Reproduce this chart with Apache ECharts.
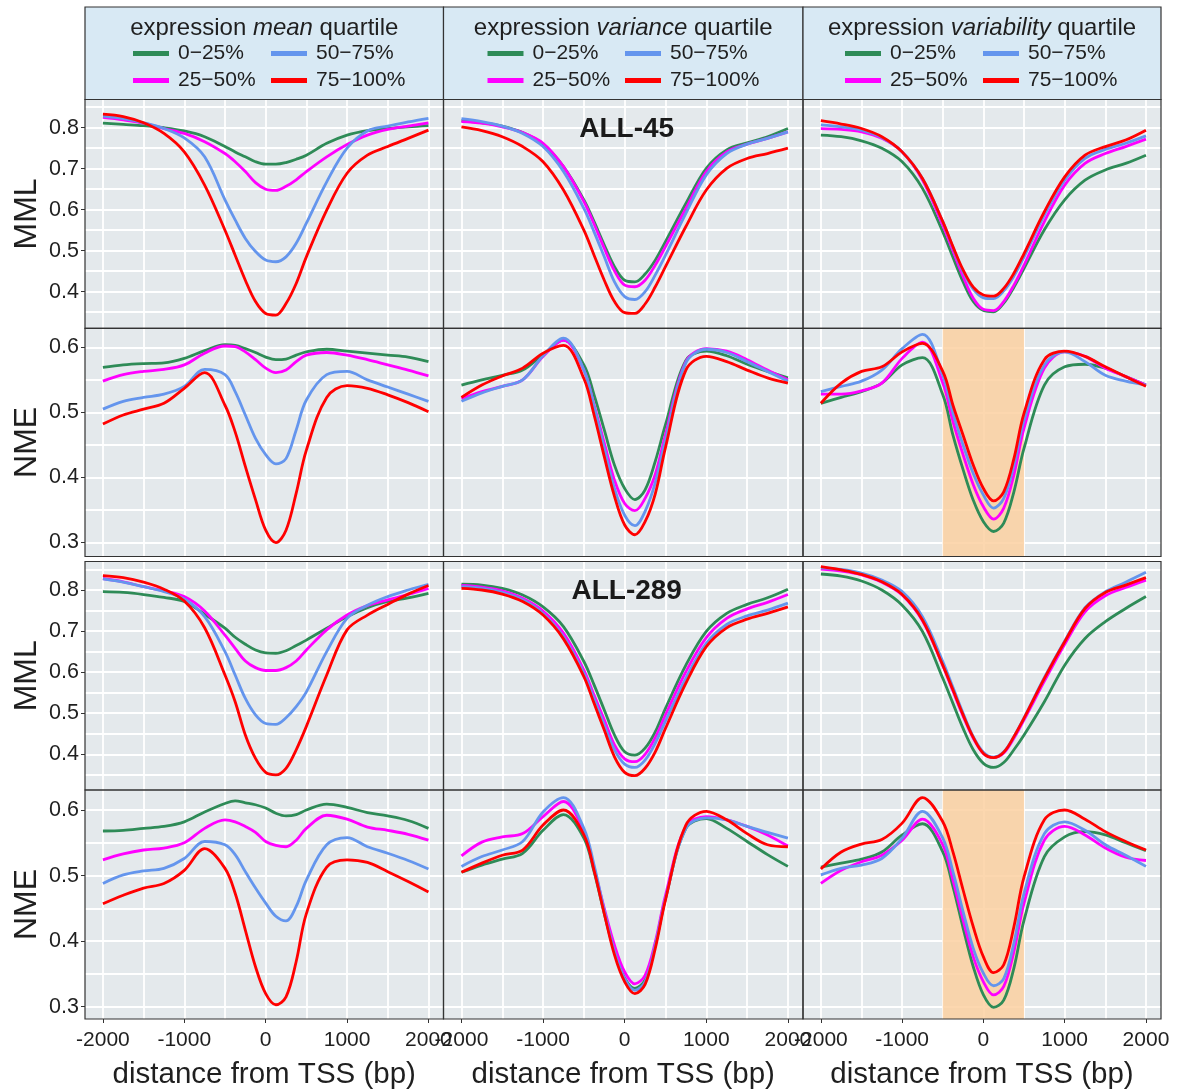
<!DOCTYPE html>
<html><head><meta charset="utf-8">
<script src="https://cdn.jsdelivr.net/npm/echarts@6/dist/echarts.min.js"></script>
<style>html,body{margin:0;padding:0;background:#fff}#c{width:1178px;height:1092px}</style>
</head><body><div id="c"></div>
<script>
// ---------------- DATA ----------------
const distance = [-2000,-1750,-1500,-1250,-1000,-750,-500,-375,-250,-125,0,125,250,375,500,750,1000,1250,1500,1750,2000];
const quartiles = ['0−25%','25−50%','50−75%','75−100%'];
const headerMeasures = ['mean','variance','variability'];
const sampleLabels = ['ALL-45','ALL-289'];
const rowMetrics = ['MML','NME','MML','NME'];
const xTickLabels = [-2000,-1000,0,1000,2000];
const xGridValues = [-2000,-1500,-1000,-500,0,500,1000,1500,2000];
const mmlTickLabels = [0.4,0.5,0.6,0.7,0.8];
const mmlGridValues = [0.35,0.4,0.45,0.5,0.55,0.6,0.65,0.7,0.75,0.8,0.85];
const nmeTickLabels = [0.3,0.4,0.5,0.6];
const nmeGridValues = [0.3,0.35,0.4,0.45,0.5,0.55,0.6];
const shadedRegion = [-500, 500];

// each panel: [0−25%, 25−50%, 50−75%, 75−100%]
const mml45Mean = [
 [0.811,0.808,0.805,0.800,0.792,0.778,0.754,0.741,0.729,0.717,0.711,0.711,0.715,0.723,0.733,0.762,0.782,0.793,0.798,0.802,0.805],
 [0.825,0.819,0.811,0.798,0.786,0.766,0.737,0.717,0.693,0.666,0.650,0.647,0.657,0.673,0.693,0.729,0.759,0.782,0.796,0.804,0.812],
 [0.828,0.822,0.812,0.798,0.775,0.729,0.624,0.575,0.530,0.498,0.477,0.473,0.485,0.518,0.567,0.668,0.750,0.792,0.804,0.814,0.823],
 [0.833,0.827,0.812,0.786,0.741,0.660,0.550,0.489,0.428,0.376,0.347,0.343,0.371,0.420,0.485,0.599,0.689,0.733,0.754,0.774,0.794]];
const mml45Variance = [
 [0.817,0.812,0.804,0.788,0.760,0.705,0.624,0.571,0.514,0.461,0.428,0.424,0.443,0.477,0.522,0.615,0.701,0.746,0.763,0.778,0.798],
 [0.815,0.811,0.802,0.788,0.762,0.705,0.620,0.565,0.506,0.451,0.416,0.412,0.428,0.465,0.510,0.603,0.693,0.741,0.760,0.774,0.790],
 [0.822,0.815,0.804,0.786,0.754,0.693,0.603,0.546,0.485,0.424,0.388,0.381,0.400,0.441,0.489,0.591,0.685,0.737,0.760,0.774,0.790],
 [0.802,0.793,0.778,0.754,0.717,0.648,0.550,0.489,0.428,0.376,0.349,0.347,0.370,0.412,0.461,0.559,0.648,0.701,0.725,0.737,0.750]];
const mml45Variability = [
 [0.782,0.778,0.768,0.750,0.717,0.652,0.546,0.484,0.424,0.376,0.354,0.351,0.372,0.411,0.457,0.551,0.624,0.672,0.697,0.713,0.733],
 [0.798,0.796,0.790,0.774,0.741,0.672,0.562,0.500,0.437,0.384,0.357,0.354,0.376,0.416,0.465,0.571,0.660,0.713,0.737,0.754,0.772],
 [0.807,0.802,0.794,0.776,0.741,0.676,0.571,0.508,0.449,0.406,0.385,0.383,0.402,0.438,0.485,0.587,0.672,0.725,0.747,0.762,0.780],
 [0.817,0.809,0.798,0.778,0.741,0.676,0.571,0.510,0.453,0.411,0.392,0.389,0.408,0.445,0.493,0.595,0.680,0.733,0.754,0.770,0.794]];
const nme45Mean = [
 [0.569,0.573,0.575,0.576,0.583,0.595,0.604,0.603,0.598,0.592,0.585,0.581,0.582,0.588,0.593,0.597,0.594,0.591,0.588,0.585,0.578],
 [0.548,0.558,0.563,0.566,0.573,0.591,0.602,0.601,0.593,0.581,0.568,0.561,0.565,0.578,0.588,0.592,0.588,0.581,0.573,0.565,0.556],
 [0.505,0.517,0.523,0.528,0.540,0.566,0.558,0.532,0.496,0.460,0.435,0.421,0.429,0.473,0.519,0.558,0.563,0.550,0.539,0.528,0.517],
 [0.482,0.496,0.505,0.514,0.537,0.561,0.511,0.470,0.417,0.366,0.319,0.300,0.319,0.376,0.442,0.523,0.541,0.537,0.527,0.515,0.501]];
const nme45Variance = [
 [0.542,0.550,0.557,0.565,0.589,0.611,0.573,0.527,0.473,0.419,0.383,0.366,0.381,0.425,0.481,0.580,0.594,0.587,0.574,0.563,0.553],
 [0.521,0.532,0.540,0.550,0.586,0.611,0.565,0.511,0.453,0.396,0.360,0.349,0.368,0.405,0.466,0.578,0.598,0.594,0.581,0.565,0.550],
 [0.517,0.530,0.540,0.550,0.587,0.614,0.565,0.509,0.445,0.383,0.342,0.326,0.348,0.392,0.458,0.576,0.597,0.592,0.578,0.563,0.548],
 [0.523,0.542,0.556,0.568,0.591,0.603,0.552,0.496,0.432,0.371,0.327,0.312,0.332,0.375,0.446,0.565,0.586,0.578,0.565,0.553,0.545]];
const nme45Variability = [
 [0.514,0.523,0.532,0.545,0.573,0.584,0.527,0.465,0.412,0.365,0.332,0.317,0.330,0.378,0.445,0.542,0.570,0.574,0.568,0.555,0.542],
 [0.528,0.528,0.533,0.545,0.583,0.608,0.545,0.486,0.435,0.389,0.355,0.336,0.353,0.404,0.476,0.568,0.593,0.586,0.568,0.555,0.542],
 [0.532,0.540,0.548,0.565,0.598,0.620,0.557,0.499,0.450,0.406,0.373,0.353,0.368,0.419,0.488,0.573,0.593,0.578,0.557,0.548,0.542],
 [0.514,0.545,0.563,0.570,0.593,0.606,0.563,0.511,0.465,0.419,0.383,0.364,0.378,0.429,0.499,0.581,0.594,0.586,0.570,0.555,0.540]];
const mml289Mean = [
 [0.796,0.794,0.789,0.782,0.772,0.741,0.707,0.685,0.668,0.654,0.647,0.646,0.652,0.665,0.678,0.707,0.735,0.757,0.772,0.781,0.792],
 [0.828,0.820,0.808,0.798,0.784,0.749,0.690,0.658,0.627,0.611,0.604,0.604,0.611,0.627,0.654,0.703,0.739,0.762,0.776,0.789,0.804],
 [0.827,0.819,0.808,0.796,0.778,0.735,0.650,0.593,0.536,0.496,0.475,0.473,0.489,0.516,0.552,0.650,0.731,0.763,0.784,0.800,0.814],
 [0.835,0.830,0.819,0.802,0.773,0.708,0.593,0.528,0.447,0.390,0.356,0.350,0.366,0.411,0.468,0.593,0.703,0.739,0.765,0.790,0.811]];
const mml289Variance = [
 [0.814,0.812,0.804,0.788,0.759,0.711,0.626,0.569,0.508,0.447,0.406,0.398,0.415,0.455,0.512,0.617,0.699,0.743,0.765,0.781,0.802],
 [0.811,0.807,0.798,0.780,0.749,0.695,0.605,0.544,0.484,0.423,0.389,0.382,0.400,0.441,0.496,0.601,0.684,0.731,0.754,0.770,0.789],
 [0.808,0.804,0.794,0.776,0.743,0.686,0.597,0.535,0.471,0.411,0.376,0.368,0.386,0.427,0.481,0.585,0.670,0.716,0.737,0.751,0.768],
 [0.804,0.800,0.790,0.772,0.739,0.681,0.589,0.524,0.459,0.394,0.356,0.348,0.366,0.406,0.463,0.573,0.662,0.708,0.729,0.743,0.759]];
const mml289Variability = [
 [0.839,0.834,0.822,0.800,0.763,0.699,0.585,0.524,0.463,0.411,0.378,0.368,0.380,0.411,0.447,0.528,0.617,0.682,0.723,0.755,0.784],
 [0.851,0.846,0.837,0.819,0.788,0.725,0.616,0.554,0.493,0.439,0.402,0.392,0.403,0.439,0.484,0.578,0.668,0.747,0.786,0.806,0.824],
 [0.854,0.850,0.841,0.824,0.796,0.735,0.626,0.563,0.500,0.443,0.405,0.393,0.406,0.443,0.489,0.587,0.676,0.757,0.796,0.819,0.843],
 [0.857,0.849,0.838,0.820,0.789,0.727,0.617,0.557,0.496,0.441,0.402,0.392,0.405,0.443,0.488,0.585,0.674,0.755,0.794,0.812,0.830]];
const nme289Mean = [
 [0.568,0.569,0.572,0.575,0.582,0.597,0.610,0.614,0.611,0.608,0.603,0.595,0.591,0.593,0.600,0.609,0.604,0.596,0.591,0.584,0.572],
 [0.524,0.533,0.539,0.542,0.550,0.572,0.585,0.582,0.575,0.566,0.552,0.546,0.544,0.554,0.572,0.592,0.586,0.574,0.569,0.563,0.554],
 [0.488,0.501,0.507,0.511,0.526,0.552,0.547,0.532,0.506,0.481,0.458,0.438,0.431,0.453,0.493,0.547,0.558,0.544,0.534,0.523,0.510],
 [0.457,0.470,0.481,0.488,0.508,0.541,0.511,0.473,0.417,0.361,0.320,0.303,0.315,0.369,0.442,0.513,0.524,0.520,0.506,0.491,0.475]];
const nme289Variance = [
 [0.505,0.516,0.525,0.534,0.569,0.593,0.557,0.506,0.442,0.384,0.344,0.328,0.341,0.394,0.465,0.572,0.587,0.572,0.552,0.532,0.514],
 [0.530,0.551,0.559,0.564,0.590,0.613,0.567,0.511,0.450,0.394,0.353,0.335,0.348,0.399,0.470,0.575,0.590,0.585,0.575,0.562,0.545],
 [0.514,0.529,0.539,0.552,0.597,0.619,0.572,0.516,0.447,0.384,0.343,0.325,0.338,0.394,0.465,0.572,0.588,0.585,0.575,0.566,0.557],
 [0.505,0.519,0.531,0.539,0.577,0.600,0.562,0.508,0.442,0.379,0.338,0.320,0.334,0.389,0.463,0.577,0.598,0.585,0.564,0.547,0.544]];
const nme289Variability = [
 [0.513,0.519,0.525,0.536,0.562,0.579,0.536,0.483,0.420,0.361,0.318,0.299,0.310,0.359,0.432,0.529,0.559,0.567,0.562,0.550,0.538],
 [0.488,0.508,0.521,0.531,0.554,0.586,0.547,0.493,0.432,0.376,0.338,0.318,0.331,0.384,0.458,0.554,0.575,0.562,0.542,0.528,0.523],
 [0.501,0.511,0.516,0.526,0.557,0.598,0.557,0.506,0.445,0.389,0.351,0.332,0.343,0.397,0.473,0.564,0.582,0.569,0.547,0.531,0.514],
 [0.510,0.536,0.548,0.555,0.580,0.619,0.582,0.536,0.478,0.422,0.376,0.352,0.364,0.422,0.498,0.585,0.600,0.586,0.567,0.552,0.539]];

// ---------------- LAYOUT / STYLE ----------------
const panelData = [
  [mml45Mean, mml45Variance, mml45Variability],
  [nme45Mean, nme45Variance, nme45Variability],
  [mml289Mean, mml289Variance, mml289Variability],
  [nme289Mean, nme289Variance, nme289Variability]
];
const COLORS = ['#2e8b57', '#ff00ff', '#6495ed', '#ff0000'];
const FONT = '"Liberation Sans", Arial, Helvetica, sans-serif';
const TXT = '#1f1f1f';
const colEdges = [85, 443.5, 803, 1161];
const rowEdges = [[99.5, 328.3], [328.3, 556.5], [561.5, 790], [790, 1019]];
const rowRange = [[0.3107, 0.8688], [0.2786, 0.6292], [0.3131, 0.8694], [0.2813, 0.6305]];
const X_MIN = -2220, X_MAX = 2185;
const legendLeft = [[133, 271], [487.5, 625], [845, 983]];

const grids = [], xAxes = [], yAxes = [], series = [], graphics = [], legends = [];
const hiddenTick = {show: true, length: 0, lineStyle: {color: 'rgba(0,0,0,0)', width: 0}};
const gridLineStyle = {color: '#ffffff', width: 1.8};

for (let r = 0; r < 4; r++) {
  for (let c = 0; c < 3; c++) {
    const idx = r * 3 + c;
    const left = colEdges[c], width = colEdges[c + 1] - colEdges[c];
    const top = rowEdges[r][0], height = rowEdges[r][1] - rowEdges[r][0];
    const bottomRow = r === 3, firstCol = c === 0;
    const isMML = rowMetrics[r] === 'MML';
    const yTicks = isMML ? mmlTickLabels : nmeTickLabels;
    const yGrid = isMML ? mmlGridValues : nmeGridValues;
    grids.push({left, top, width, height, show: true, backgroundColor: '#e4e9ec',
      borderWidth: 0, containLabel: false, outerBoundsMode: 'none'});
    // gridline axes (index 2*idx)
    xAxes.push({
      type: 'value', gridIndex: idx, position: 'bottom', min: X_MIN, max: X_MAX,
      axisLine: {show: false, onZero: false},
      splitLine: {show: true, showMinLine: true, showMaxLine: true, lineStyle: gridLineStyle},
      axisTick: Object.assign({customValues: xGridValues}, hiddenTick),
      axisLabel: {show: false, customValues: xGridValues}
    });
    yAxes.push({
      type: 'value', gridIndex: idx, position: 'left', min: rowRange[r][0], max: rowRange[r][1],
      axisLine: {show: false, onZero: false},
      splitLine: {show: true, showMinLine: true, showMaxLine: true, lineStyle: gridLineStyle},
      axisTick: Object.assign({customValues: yGrid}, hiddenTick),
      axisLabel: {show: false, customValues: yGrid}
    });
    // label axes (index 2*idx+1)
    xAxes.push({
      type: 'value', gridIndex: idx, position: 'bottom', min: X_MIN, max: X_MAX,
      axisLine: {show: false, onZero: false},
      splitLine: {show: false},
      axisTick: {show: bottomRow, customValues: xTickLabels, length: 4, lineStyle: {color: '#333', width: 1}},
      axisLabel: {show: bottomRow, customValues: xTickLabels, formatter: v => String(v),
        fontFamily: FONT, fontSize: 21, color: TXT, margin: 11},
      name: bottomRow ? 'distance from TSS (bp)' : '', nameLocation: 'middle', nameGap: 41,
      nameTextStyle: {fontFamily: FONT, fontSize: 29.5, color: TXT}
    });
    yAxes.push({
      type: 'value', gridIndex: idx, position: 'left', min: rowRange[r][0], max: rowRange[r][1],
      axisLine: {show: false, onZero: false},
      splitLine: {show: false},
      axisTick: {show: firstCol, customValues: yTicks, length: 4, lineStyle: {color: '#333', width: 1}},
      axisLabel: {show: firstCol, customValues: yTicks, formatter: v => Number(v).toFixed(1),
        fontFamily: FONT, fontSize: 21.5, color: TXT, margin: 6},
      name: firstCol ? rowMetrics[r] : '', nameLocation: 'middle', nameGap: 42, nameRotate: 90,
      nameTextStyle: {fontFamily: FONT, fontSize: 32, color: TXT}
    });
    const ax = 2 * idx;
    if (c === 2 && (r === 1 || r === 3)) {
      series.push({type: 'line', xAxisIndex: ax, yAxisIndex: ax, data: [], z: 1, silent: true,
        markArea: {silent: true, itemStyle: {color: 'rgba(252,208,161,0.85)'},
          data: [[{xAxis: shadedRegion[0]}, {xAxis: shadedRegion[1]}]]}});
    }
    const pd = panelData[r][c];
    for (let q = 0; q < 4; q++) {
      series.push({
        type: 'line', name: quartiles[q], xAxisIndex: ax, yAxisIndex: ax,
        data: distance.map((d, k) => [d, pd[q][k]]),
        smooth: 0.35, showSymbol: false, symbol: 'none', z: 3, silent: true,
        lineStyle: {width: 2.8, color: COLORS[q]}, itemStyle: {color: COLORS[q]}
      });
    }
    graphics.push({type: 'rect', silent: true, z: 100,
      shape: {x: left, y: top, width, height},
      style: {fill: 'none', stroke: '#333', lineWidth: 1.2}});
  }
}

for (let c = 0; c < 3; c++) {
  const left = colEdges[c], width = colEdges[c + 1] - colEdges[c];
  graphics.push({type: 'rect', silent: true, z: 90,
    shape: {x: left, y: 7, width, height: 92.5},
    style: {fill: '#d8e9f4', stroke: '#333', lineWidth: 1.2}});
  graphics.push({type: 'text', silent: true, z: 95, x: left + width / 2, y: 28,
    style: {text: '{n|expression }{i|' + headerMeasures[c] + '}{n| quartile}',
      align: 'center', verticalAlign: 'middle', textAlign: 'center', textVerticalAlign: 'middle',
      rich: {n: {fontFamily: FONT, fontSize: 24, fill: TXT},
             i: {fontFamily: FONT, fontSize: 24, fontStyle: 'italic', fill: TXT}}}});
  for (let k = 0; k < 2; k++) {
    legends.push({orient: 'vertical', left: legendLeft[c][k], top: 42.5, padding: 0, itemGap: 5,
      itemWidth: 36, itemHeight: 5, icon: 'rect', selectedMode: false, z: 96,
      data: k === 0 ? [quartiles[0], quartiles[1]] : [quartiles[2], quartiles[3]],
      textStyle: {fontFamily: FONT, fontSize: 21, color: TXT, lineHeight: 22, padding: [0, 0, 0, 4]}});
  }
}

const labelPos = [[626.7, 129.5], [626.7, 591]];
sampleLabels.forEach((s, i) => {
  graphics.push({type: 'text', silent: true, z: 95, x: labelPos[i][0], y: labelPos[i][1],
    style: {text: s, fontFamily: FONT, fontSize: 28, fontWeight: 'bold', fill: '#1a1a1a',
      align: 'center', verticalAlign: 'middle', textAlign: 'center', textVerticalAlign: 'middle'}});
});

const chart = echarts.init(document.getElementById('c'), null, {renderer: 'canvas'});
chart.setOption({
  animation: false,
  backgroundColor: '#ffffff',
  grid: grids, xAxis: xAxes, yAxis: yAxes, series, legend: legends, graphic: graphics
});
</script></body></html>
